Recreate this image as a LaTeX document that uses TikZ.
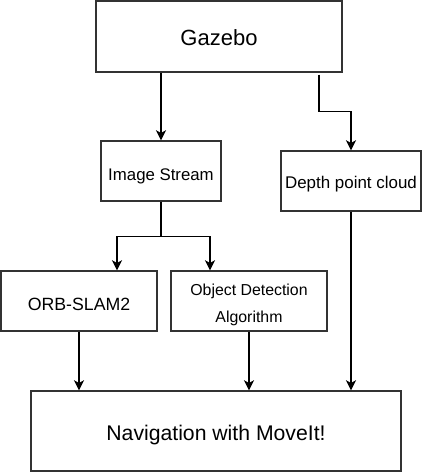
\documentclass[tikz,border=0pt]{standalone}
\usepackage{fontspec}
\setmainfont{Liberation Sans}
\usetikzlibrary{arrows.meta}
\begin{document}
\begin{tikzpicture}[x=0.75pt,y=-0.75pt,
  box/.style={draw=black!80,line width=1.1pt,inner sep=0pt},
  arr/.style={draw=black,line width=1.1pt,-{Stealth[length=7.5pt,width=7.5pt,inset=2pt]}},
  ln/.style={draw=black,line width=1.1pt}]
\useasboundingbox (0,0) rectangle (422,472);
\node[box,minimum width=184.5pt,minimum height=53.25pt,text height=12.8pt,text depth=0pt,font=\fontsize{16.5}{19}\selectfont] (gazebo) at (219,36.5) {Gazebo};
\node[box,minimum width=90pt,minimum height=45pt,text height=14.4pt,text depth=0pt,font=\fontsize{12.6}{15}\selectfont] (img) at (161,171) {Image Stream};
\node[box,minimum width=105pt,minimum height=45pt,text height=11.7pt,text depth=0pt,font=\fontsize{12.7}{15}\selectfont] (dpc) at (351,181) {Depth point cloud};
\node[box,minimum width=117pt,minimum height=45pt,text height=14.5pt,text depth=0pt,font=\fontsize{13.3}{16}\selectfont] (orb) at (79,301) {ORB-SLAM2};
\node[box,minimum width=117pt,minimum height=45pt,font=\fontsize{11.9}{20}\selectfont] (obj) at (249,301) {\raisebox{0pt}[6pt][14.1pt]{\begin{tabular}[t]{@{}c@{}}Object Detection\\Algorithm\end{tabular}}};
\node[box,minimum width=277.5pt,minimum height=60pt,text height=13.5pt,text depth=0pt,font=\fontsize{15.9}{18}\selectfont] (nav) at (216,431) {Navigation with MoveIt!};
% connectors
\draw[arr] (gazebo.south -| img.north) -- (img.north);
\coordinate (gs) at ([xshift=75pt,yshift=-1.5pt]gazebo.south);
\draw[arr] (gs) -- ++(0,37) -| (dpc.north);
\coordinate (split) at ([yshift=-26.25pt]img.south);
\draw[ln] (img.south) -- (split);
\draw[arr] (split) -| ([xshift=28.5pt]orb.north);
\draw[arr] (split) -| ([xshift=-29.25pt]obj.north);
\draw[arr] (orb.south) -- (orb.south |- nav.north);
\draw[arr] (obj.south) -- (obj.south |- nav.north);
\draw[arr] (dpc.south) -- (dpc.south |- nav.north);
\end{tikzpicture}
\end{document}
